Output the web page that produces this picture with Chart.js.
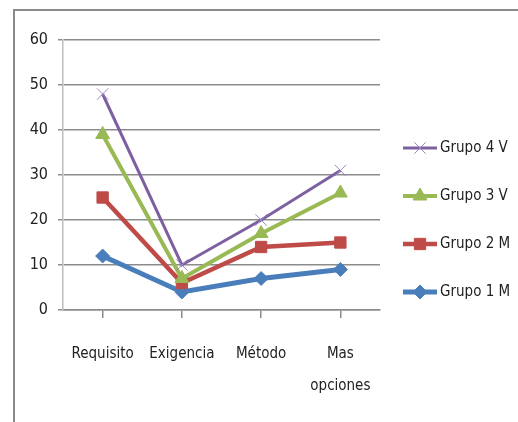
<!DOCTYPE html>
<html>
<head>
<meta charset="utf-8">
<script src="https://cdn.jsdelivr.net/npm/chart.js@4/dist/chart.umd.min.js"></script>
<style>
  html, body { margin: 0; padding: 0; background: #fff; }
  #wrap { position: relative; width: 518px; height: 422px; }
</style>
</head>
<body>
<div id="wrap"><canvas id="chart" width="518" height="422"></canvas></div>
<script>
// categories and series
const categories = ['Requisito', 'Exigencia', 'Método', ['Mas', 'opciones']];
const grupo4V = [48, 10, 20, 31];
const grupo3V = [39, 7, 17, 26];
const grupo2M = [25, 6, 14, 15];
const grupo1M = [12, 4, 7, 9];
const yTicks = [0, 10, 20, 30, 40, 50, 60];

const FONT = "'Liberation Sans Narrow', 'DejaVu Sans Condensed', 'Arial Narrow', sans-serif";

// outer frame of the chart object (top and left edges visible)
const framePlugin = {
    id: 'frame',
    beforeDraw(chart) {
        const ctx = chart.ctx;
        ctx.save();
        ctx.strokeStyle = '#8a8a8a';
        ctx.lineWidth = 2;
        ctx.beginPath();
        ctx.moveTo(14, 422);
        ctx.lineTo(14, 10);
        ctx.lineTo(518, 10);
        ctx.stroke();
        ctx.restore();
    }
};

// legend drawn as line + marker + text, like the spreadsheet one
const legendPlugin = {
    id: 'sideLegend',
    afterDraw(chart) {
        const ctx = chart.ctx;
        const x0 = 403, x1 = 437;
        const yStart = 148, gap = 48;
        ctx.save();
        chart.data.datasets.forEach((ds, i) => {
            const y = yStart + i * gap;
            ctx.strokeStyle = ds.borderColor;
            ctx.lineWidth = ds.borderWidth;
            ctx.beginPath();
            ctx.moveTo(x0, y);
            ctx.lineTo(x1, y);
            ctx.stroke();
            ctx.fillStyle = ds.pointBackgroundColor;
            ctx.strokeStyle = ds.pointBorderColor;
            ctx.lineWidth = ds.pointBorderWidth;
            Chart.helpers.drawPoint(ctx, {
                pointStyle: ds.pointStyle,
                radius: ds.pointRadius,
                rotation: 0,
                borderWidth: ds.pointBorderWidth
            }, (x0 + x1) / 2, y);
            ctx.fillStyle = '#222';
            ctx.font = '15px ' + FONT;
            ctx.textBaseline = 'middle';
            ctx.textAlign = 'left';
            ctx.fillText(ds.label, x1 + 3, y);
        });
        ctx.restore();
    }
};

new Chart(document.getElementById('chart'), {
    type: 'line',
    data: {
        labels: categories,
        datasets: [
            {
                label: 'Grupo 4 V',
                data: grupo4V,
                borderColor: '#7d60a0',
                borderWidth: 3,
                pointStyle: 'crossRot',
                pointRadius: 8,
                pointBorderWidth: 1,
                pointBorderColor: '#9c86c4',
                pointBackgroundColor: '#9c86c4'
            },
            {
                label: 'Grupo 3 V',
                data: grupo3V,
                borderColor: '#98b954',
                borderWidth: 4,
                pointStyle: 'triangle',
                pointRadius: 8,
                pointBorderWidth: 1,
                pointBorderColor: '#98b954',
                pointBackgroundColor: '#98b954'
            },
            {
                label: 'Grupo 2 M',
                data: grupo2M,
                borderColor: '#be4b48',
                borderWidth: 4.5,
                pointStyle: 'rect',
                pointRadius: 8,
                pointBorderWidth: 1,
                pointBorderColor: '#be4b48',
                pointBackgroundColor: '#be4b48'
            },
            {
                label: 'Grupo 1 M',
                data: grupo1M,
                borderColor: '#4a7ebb',
                borderWidth: 5,
                pointStyle: 'rectRot',
                pointRadius: 7,
                pointBorderWidth: 1,
                pointBorderColor: '#4a7ebb',
                pointBackgroundColor: '#4a7ebb'
            }
        ]
    },
    options: {
        responsive: false,
        animation: false,
        layout: { padding: { left: 0, top: 40, right: 138, bottom: 0 } },
        plugins: {
            legend: { display: false },
            tooltip: { enabled: false }
        },
        scales: {
            x: {
                offset: true,
                grid: {
                    drawOnChartArea: false,
                    drawTicks: true,
                    tickLength: 8,
                    color: '#8c8c8c',
                    lineWidth: 1.5
                },
                border: { color: '#8c8c8c', width: 1.5 },
                ticks: {
                    color: '#222',
                    padding: 20,
                    maxRotation: 0,
                    autoSkip: false,
                    font: { family: FONT, size: 15, lineHeight: '32px' }
                },
                afterFit(scale) { scale.height = 112; }
            },
            y: {
                min: 0,
                max: 60,
                afterBuildTicks(scale) { scale.ticks = yTicks.map(v => ({ value: v })); },
                grid: {
                    color: '#8c8c8c',
                    lineWidth: 1.5,
                    tickLength: 5
                },
                border: { color: '#bdbdbd', width: 1.5 },
                ticks: {
                    color: '#222',
                    padding: 10,
                    font: { family: FONT, size: 16 }
                },
                afterFit(scale) { scale.width = 63; }
            }
        }
    },
    plugins: [framePlugin, legendPlugin]
});
</script>
</body>
</html>
